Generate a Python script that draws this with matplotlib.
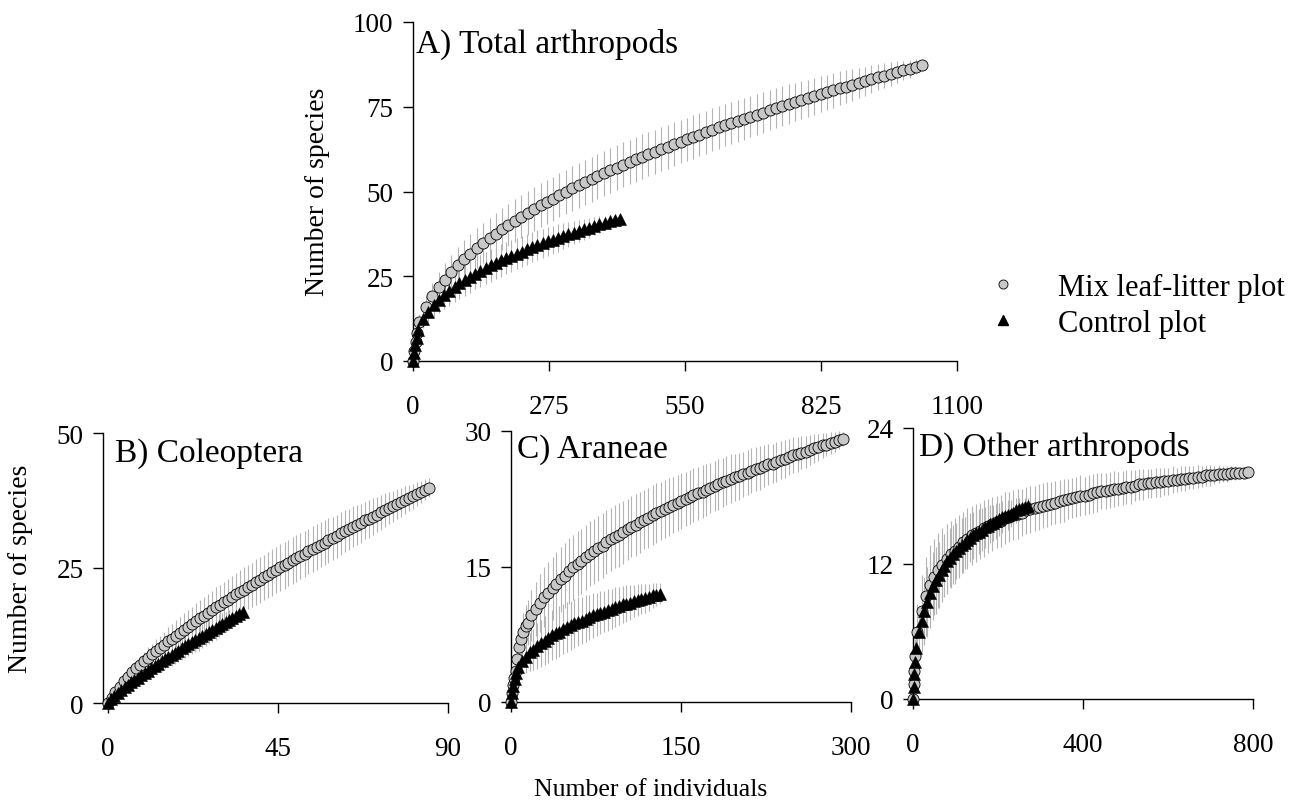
import matplotlib
matplotlib.use("Agg")
import matplotlib.pyplot as plt
from matplotlib.lines import Line2D

plt.rcParams["font.family"] = ["Liberation Serif", "DejaVu Serif"]
plt.rcParams["axes.linewidth"] = 1.0

# ---------------- data ----------------
# A) Total arthropods
a_mix_x = [0, 3, 6, 9,
           13, 26, 39, 52, 64, 77, 90, 103, 116, 129,
           142, 155, 167, 180, 193, 206, 219, 232, 245, 258,
           270, 283, 296, 309, 322, 335, 348, 361, 373, 386,
           399, 412, 425, 438, 451, 464, 476, 489, 502, 515,
           528, 541, 554, 567, 579, 592, 605, 618, 631, 644,
           657, 670, 682, 695, 708, 721, 734, 747, 760, 773,
           785, 798, 811, 824, 837, 850, 863, 876, 888, 901,
           914, 927, 940, 953, 966, 979, 991, 1004, 1017, 1030]
a_mix_y = [0, 2.9, 5.6, 8.2,
           11.5, 15.8, 19.1, 21.8, 24.0, 26.2, 28.2, 30.0, 31.7, 33.3,
           34.8, 36.2, 37.5, 38.9, 40.1, 41.4, 42.6, 43.7, 44.8, 45.9,
           46.9, 47.9, 48.9, 49.9, 50.9, 51.8, 52.7, 53.6, 54.5, 55.4,
           56.2, 57.0, 57.9, 58.7, 59.5, 60.3, 61.0, 61.7, 62.5, 63.2,
           64.0, 64.7, 65.4, 66.1, 66.8, 67.5, 68.2, 68.9, 69.5, 70.2,
           70.8, 71.4, 72.1, 72.7, 73.3, 74.0, 74.6, 75.2, 75.8, 76.4,
           76.9, 77.5, 78.1, 78.7, 79.3, 79.8, 80.4, 80.9, 81.5, 82.0,
           82.5, 83.1, 83.7, 84.2, 84.7, 85.3, 85.7, 86.2, 86.8, 87.3]
a_mix_sd = [0, 0.3, 0.9, 1.6,
            2.5, 3.3, 4.0, 4.5, 4.9, 5.2, 5.4, 5.6, 5.8, 5.9,
            6.0, 6.1, 6.2, 6.2, 6.3, 6.3, 6.4, 6.4, 6.4, 6.5,
            6.5, 6.5, 6.5, 6.5, 6.6, 6.6, 6.6, 6.6, 6.6, 6.6,
            6.6, 6.6, 6.6, 6.6, 6.6, 6.6, 6.5, 6.5, 6.5, 6.5,
            6.5, 6.4, 6.4, 6.4, 6.4, 6.3, 6.3, 6.3, 6.2, 6.2,
            6.2, 6.1, 6.1, 6.0, 6.0, 5.9, 5.9, 5.8, 5.8, 5.7,
            5.6, 5.5, 5.4, 5.3, 5.2, 5.1, 5.0, 4.8, 4.7, 4.5,
            4.3, 4.1, 3.9, 3.7, 3.5, 3.2, 2.9, 2.6, 2.2, 1.8]
a_ctrl_x = [0, 2.5, 5, 7.5,
            10, 21, 31, 42, 52, 63, 73, 84, 94, 105,
            115, 126, 136, 147, 157, 168, 178, 189, 199, 210,
            220, 230, 241, 251, 262, 272, 283, 293, 304, 314,
            325, 335, 346, 356, 367, 377, 388, 398, 409, 419]
a_ctrl_y = [0, 2.4, 4.6, 6.9,
            9.2, 12.4, 14.6, 16.5, 18.0, 19.4, 20.6, 21.9, 22.9, 23.9,
            24.8, 25.8, 26.6, 27.4, 28.2, 29.0, 29.7, 30.4, 31.0, 31.7,
            32.3, 32.9, 33.6, 34.1, 34.7, 35.3, 35.8, 36.3, 36.9, 37.4,
            37.9, 38.4, 38.9, 39.3, 39.8, 40.3, 40.7, 41.2, 41.6, 42.0]
a_ctrl_sd = [0, 0.2, 0.6, 1.1,
             1.8, 2.6, 3.2, 3.6, 3.9, 4.1, 4.3, 4.4, 4.5, 4.6,
             4.7, 4.7, 4.8, 4.8, 4.8, 4.8, 4.8, 4.8, 4.7, 4.7,
             4.6, 4.6, 4.5, 4.4, 4.3, 4.2, 4.1, 4.0, 3.8, 3.7,
             3.5, 3.3, 3.1, 2.9, 2.7, 2.4, 2.2, 1.9, 1.6, 1.3]

# B) Coleoptera
b_mix_x = [0, 1.1, 2.1, 3.2, 4.3, 5.3, 6.4, 7.4, 8.5, 9.6, 10.6,
           11.7, 12.8, 13.8, 14.9, 15.9, 17.0, 18.1, 19.1, 20.2, 21.3,
           22.3, 23.4, 24.4, 25.5, 26.6, 27.6, 28.7, 29.8, 30.8, 31.9,
           32.9, 34.0, 35.1, 36.1, 37.2, 38.3, 39.3, 40.4, 41.4, 42.5,
           43.6, 44.6, 45.7, 46.8, 47.8, 48.9, 49.9, 51.0, 52.1, 53.1,
           54.2, 55.3, 56.3, 57.4, 58.4, 59.5, 60.6, 61.6, 62.7, 63.8,
           64.8, 65.9, 66.9, 68.0, 69.1, 70.1, 71.2, 72.3, 73.3, 74.4,
           75.4, 76.5, 77.6, 78.6, 79.7, 80.8, 81.8, 82.9, 83.9, 85.0]
b_mix_y = [0, 1.0, 2.0, 3.0, 4.0, 4.9, 5.7, 6.4, 7.1, 7.8, 8.4,
           9.0, 9.6, 10.2, 10.8, 11.4, 11.9, 12.5, 13.0, 13.6, 14.1,
           14.6, 15.2, 15.7, 16.2, 16.7, 17.2, 17.7, 18.2, 18.7, 19.1,
           19.6, 20.1, 20.6, 21.0, 21.5, 21.9, 22.4, 22.8, 23.3, 23.7,
           24.2, 24.6, 25.1, 25.5, 25.9, 26.4, 26.8, 27.2, 27.6, 28.1,
           28.5, 28.9, 29.3, 29.7, 30.1, 30.5, 30.9, 31.4, 31.8, 32.2,
           32.6, 33.0, 33.3, 33.8, 34.1, 34.5, 34.9, 35.3, 35.7, 36.1,
           36.4, 36.8, 37.2, 37.6, 38.0, 38.3, 38.7, 39.1, 39.5, 39.9]
b_mix_sd = [0, 0.2, 0.4, 0.6, 0.8, 1.0, 1.2, 1.4, 1.6, 1.7, 1.9,
            2.0, 2.2, 2.3, 2.4, 2.6, 2.7, 2.8, 2.9, 3.0, 3.1,
            3.2, 3.3, 3.4, 3.5, 3.5, 3.6, 3.7, 3.7, 3.8, 3.9,
            3.9, 4.0, 4.0, 4.1, 4.1, 4.1, 4.2, 4.2, 4.2, 4.3,
            4.3, 4.3, 4.3, 4.3, 4.3, 4.3, 4.3, 4.3, 4.3, 4.2,
            4.2, 4.2, 4.2, 4.1, 4.1, 4.0, 4.0, 3.9, 3.9, 3.8,
            3.8, 3.7, 3.6, 3.5, 3.5, 3.4, 3.3, 3.2, 3.1, 3.0,
            2.9, 2.8, 2.7, 2.6, 2.4, 2.3, 2.2, 2.0, 1.9, 1.7]
b_ctrl_x = [0, 0.9, 1.8, 2.7, 3.6, 4.5, 5.4, 6.2, 7.1, 8.0, 8.9,
            9.8, 10.7, 11.6, 12.5, 13.4, 14.3, 15.2, 16.1, 17.0, 17.9,
            18.7, 19.6, 20.5, 21.4, 22.3, 23.2, 24.1, 25.0, 25.9, 26.8,
            27.7, 28.6, 29.5, 30.3, 31.2, 32.1, 33.0, 33.9, 34.8, 35.7]
b_ctrl_y = [0, 0.7, 1.3, 1.9, 2.4, 2.9, 3.4, 3.8, 4.3, 4.7, 5.2,
            5.6, 6.0, 6.5, 6.9, 7.3, 7.7, 8.1, 8.5, 8.9, 9.3,
            9.7, 10.1, 10.5, 10.9, 11.3, 11.7, 12.0, 12.4, 12.8, 13.2,
            13.5, 13.9, 14.3, 14.6, 15.0, 15.4, 15.7, 16.1, 16.5, 16.8]
b_ctrl_sd = [0, 0.1, 0.2, 0.3, 0.4, 0.5, 0.6, 0.8, 0.9, 1.0, 1.1,
             1.2, 1.3, 1.4, 1.5, 1.6, 1.7, 1.8, 1.9, 2.0, 2.0,
             2.1, 2.1, 2.2, 2.2, 2.2, 2.3, 2.3, 2.3, 2.3, 2.3,
             2.2, 2.2, 2.1, 2.0, 1.9, 1.8, 1.7, 1.5, 1.3, 1.1]

# C) Araneae
c_mix_x = [0, 1, 2, 3, 4, 5.5, 7, 9, 11, 13, 15,
           18, 22, 26, 29, 33, 37,
           40, 44, 48, 51, 55, 59, 62, 66, 70, 73,
           77, 81, 84, 88, 92, 95, 99, 103, 106, 110,
           114, 117, 121, 125, 128, 132, 136, 139, 143, 147,
           150, 154, 158, 161, 165, 169, 172, 176, 180, 183,
           187, 190, 194, 198, 201, 205, 209, 212, 216, 220,
           223, 227, 231, 234, 238, 242, 245, 249, 253, 256,
           260, 264, 267, 271, 275, 278, 282, 286, 289, 293]
c_mix_y = [0, 1.0, 1.9, 2.7, 3.4, 4.8, 6.1, 7.0, 7.8, 8.4, 8.8,
           9.6, 10.3, 11.0, 11.6, 12.1, 12.6,
           13.1, 13.6, 14.0, 14.5, 14.9, 15.3, 15.6, 16.0, 16.4, 16.7,
           17.0, 17.3, 17.7, 18.0, 18.3, 18.5, 18.8, 19.1, 19.4, 19.6,
           19.9, 20.2, 20.4, 20.7, 20.9, 21.1, 21.4, 21.6, 21.8, 22.0,
           22.3, 22.5, 22.7, 22.9, 23.1, 23.3, 23.5, 23.7, 23.9, 24.1,
           24.3, 24.5, 24.7, 24.9, 25.0, 25.2, 25.4, 25.6, 25.8, 25.9,
           26.1, 26.3, 26.4, 26.6, 26.8, 26.9, 27.1, 27.3, 27.4, 27.6,
           27.7, 27.9, 28.1, 28.2, 28.4, 28.5, 28.7, 28.8, 29.0, 29.1]
c_mix_sd = [0, 0.1, 0.3, 0.5, 0.8, 1.2, 1.6, 1.9, 2.1, 2.3, 2.5,
            2.8, 3.0, 3.2, 3.3, 3.4, 3.5,
            3.5, 3.6, 3.6, 3.6, 3.6, 3.6, 3.6, 3.6, 3.6, 3.6,
            3.6, 3.6, 3.5, 3.5, 3.5, 3.5, 3.5, 3.4, 3.4, 3.4,
            3.4, 3.3, 3.3, 3.3, 3.3, 3.2, 3.2, 3.2, 3.1, 3.1,
            3.1, 3.0, 3.0, 3.0, 2.9, 2.9, 2.9, 2.8, 2.8, 2.8,
            2.7, 2.7, 2.7, 2.6, 2.6, 2.5, 2.5, 2.5, 2.4, 2.4,
            2.3, 2.3, 2.2, 2.2, 2.1, 2.1, 2.0, 2.0, 1.9, 1.8,
            1.8, 1.7, 1.6, 1.5, 1.4, 1.3, 1.2, 1.1, 1.0, 0.8]
c_ctrl_x = [0, 1, 2, 3.3, 4.5, 6.6, 9.9, 13.2, 16.4, 19.7, 23.0, 26.3, 29.6, 32.9,
            36.2, 39.5, 42.7, 46.0, 49.3, 52.6, 55.9, 59.2, 62.5, 65.8,
            69.0, 72.3, 75.6, 78.9, 82.2, 85.5, 88.8, 92.1, 95.3, 98.6,
            101.9, 105.2, 108.5, 111.8, 115.1, 118.4, 121.6, 124.9, 128.2, 131.5]
c_ctrl_y = [0, 1.0, 1.8, 2.6, 3.2, 3.9, 4.5, 5.0, 5.5, 5.8, 6.2, 6.5, 6.8, 7.1,
            7.4, 7.6, 7.8, 8.1, 8.3, 8.5, 8.7, 8.9, 9.0, 9.2,
            9.4, 9.6, 9.7, 9.9, 10.0, 10.2, 10.3, 10.5, 10.6, 10.8,
            10.9, 11.0, 11.2, 11.3, 11.4, 11.5, 11.6, 11.8, 11.9, 12.0]
c_ctrl_sd = [0, 0.1, 0.3, 0.5, 0.7, 1.0, 1.4, 1.8, 2.1, 2.3, 2.5, 2.6, 2.7, 2.8,
             2.8, 2.8, 2.8, 2.8, 2.8, 2.7, 2.7, 2.7, 2.6, 2.6,
             2.5, 2.5, 2.4, 2.4, 2.3, 2.3, 2.2, 2.2, 2.1, 2.0,
             2.0, 1.9, 1.8, 1.8, 1.7, 1.6, 1.5, 1.4, 1.3, 1.2]

# D) Other arthropods
d_mix_x = [0, 1.3, 2.6, 4.0,
           10, 20, 30, 39, 49, 59, 69, 79, 89, 99,
           108, 118, 128, 138, 148, 158, 167, 177, 187, 197,
           207, 217, 227, 236, 246, 256, 266, 276, 286, 296,
           305, 315, 325, 335, 345, 355, 364, 374, 384, 394,
           404, 414, 424, 433, 443, 453, 463, 473, 483, 493,
           502, 512, 522, 532, 542, 552, 561, 571, 581, 591,
           601, 611, 621, 630, 640, 650, 660, 670, 680, 690,
           699, 709, 719, 729, 739, 749, 758, 768, 778, 788]
d_mix_y = [0, 1.3, 2.5, 3.8,
           5.9, 7.8, 9.1, 10.1, 10.8, 11.4, 11.9, 12.4, 12.8, 13.1,
           13.5, 13.9, 14.2, 14.5, 14.7, 14.9, 15.1, 15.3, 15.5, 15.7,
           15.8, 16.0, 16.1, 16.3, 16.4, 16.5, 16.7, 16.8, 16.9, 17.0,
           17.1, 17.2, 17.3, 17.4, 17.5, 17.6, 17.7, 17.8, 17.9, 18.0,
           18.0, 18.1, 18.2, 18.3, 18.4, 18.4, 18.5, 18.6, 18.6, 18.7,
           18.8, 18.8, 18.9, 19.0, 19.0, 19.1, 19.1, 19.2, 19.2, 19.3,
           19.3, 19.4, 19.4, 19.5, 19.5, 19.6, 19.6, 19.7, 19.7, 19.8,
           19.8, 19.8, 19.9, 19.9, 19.9, 20.0, 20.0, 20.0, 20.0, 20.1]
d_mix_sd = [0, 0.3, 0.8, 1.5,
            2.5, 3.2, 3.5, 3.5, 3.4, 3.3, 3.2, 3.1, 3.0, 2.9,
            2.8, 2.7, 2.7, 2.6, 2.6, 2.5, 2.5, 2.4, 2.4, 2.3,
            2.3, 2.3, 2.2, 2.2, 2.2, 2.1, 2.1, 2.1, 2.0, 2.0,
            2.0, 2.0, 1.9, 1.9, 1.9, 1.9, 1.8, 1.8, 1.8, 1.8,
            1.7, 1.7, 1.7, 1.7, 1.6, 1.6, 1.6, 1.6, 1.5, 1.5,
            1.5, 1.5, 1.4, 1.4, 1.4, 1.3, 1.3, 1.3, 1.3, 1.2,
            1.2, 1.2, 1.1, 1.1, 1.1, 1.0, 1.0, 1.0, 0.9, 0.9,
            0.9, 0.8, 0.8, 0.7, 0.7, 0.6, 0.6, 0.5, 0.5, 0.4]
d_ctrl_x = [0, 1.2, 2.4, 3.6,
            7, 14, 20, 27, 34, 41, 47, 54, 61, 68,
            74, 81, 88, 95, 101, 108, 115, 122, 128, 135,
            142, 149, 155, 162, 169, 176, 182, 189, 196, 203,
            209, 216, 223, 230, 236, 243, 250, 257, 263, 270]
d_ctrl_y = [0, 1.1, 2.2, 3.3,
            4.5, 5.9, 6.9, 7.8, 8.6, 9.4, 10.0, 10.5, 11.0, 11.4,
            11.8, 12.2, 12.5, 12.8, 13.1, 13.4, 13.6, 13.8, 14.1, 14.3,
            14.5, 14.7, 14.8, 15.0, 15.2, 15.3, 15.5, 15.6, 15.8, 15.9,
            16.1, 16.2, 16.3, 16.4, 16.5, 16.7, 16.8, 16.9, 17.0, 17.1]
d_ctrl_sd = [0, 0.2, 0.5, 0.9,
             1.5, 2.2, 2.7, 3.0, 3.1, 3.1, 3.0, 3.0, 2.9, 2.8,
             2.8, 2.7, 2.6, 2.6, 2.5, 2.4, 2.4, 2.3, 2.2, 2.2,
             2.1, 2.0, 2.0, 1.9, 1.8, 1.8, 1.7, 1.6, 1.6, 1.5,
             1.4, 1.4, 1.3, 1.2, 1.1, 1.1, 1.0, 0.9, 0.8, 0.7]

series_labels = ["Mix leaf-litter plot", "Control plot"]

# ---------------- style ----------------
W, H = 1295, 812
MIX_FACE = "#C8C8C8"
BAR_COLOR = "#B4B4B4"
TICK_FS = 19.5
TITLE_FS = 24


def px(x, y):
    """pixel position (top-left origin) -> figure fraction"""
    return x / W, 1 - y / H


def box(left, top, right, bottom):
    return [left / W, 1 - bottom / H, (right - left) / W, (bottom - top) / H]


def draw_panel(ax, mx, my, msd, cx, cy, csd, xlim, xticks, ylim, yticks):
    ax.errorbar(mx, my, yerr=msd, fmt="none", ecolor=BAR_COLOR,
                elinewidth=0.8, capsize=0, zorder=2)
    ax.errorbar(cx, cy, yerr=csd, fmt="none", ecolor=BAR_COLOR,
                elinewidth=0.8, capsize=0, zorder=2)
    ax.plot(mx, my, ls="none", marker="o", ms=8, mfc=MIX_FACE, mec="black",
            mew=0.6, zorder=3, clip_on=False)
    ax.plot(cx, cy, ls="none", marker="^", ms=8, mfc="black", mec="black",
            mew=0.4, zorder=4, clip_on=False)
    ax.set_xlim(*xlim)
    ax.set_ylim(*ylim)
    ax.set_xticks(xticks)
    ax.set_yticks(yticks)
    ax.spines["top"].set_visible(False)
    ax.spines["right"].set_visible(False)
    ax.tick_params(direction="out", length=7, width=1.0,
                   labelsize=TICK_FS)
    ax.tick_params(axis="x", pad=16.5)
    ax.tick_params(axis="y", pad=7)


fig = plt.figure(figsize=(W / 100, H / 100), dpi=100)

ax_a = fig.add_axes(box(413, 23, 957, 362))
ax_b = fig.add_axes(box(103, 434, 448, 704))
ax_c = fig.add_axes(box(511, 432, 851, 703))
ax_d = fig.add_axes(box(913, 429, 1253, 700))

draw_panel(ax_a, a_mix_x, a_mix_y, a_mix_sd, a_ctrl_x, a_ctrl_y, a_ctrl_sd,
           (0, 1100), [0, 275, 550, 825, 1100], (0, 100), [0, 25, 50, 75, 100])
draw_panel(ax_b, b_mix_x, b_mix_y, b_mix_sd, b_ctrl_x, b_ctrl_y, b_ctrl_sd,
           (-1.2, 90), [0, 45, 90], (0, 50), [0, 25, 50])
draw_panel(ax_c, c_mix_x, c_mix_y, c_mix_sd, c_ctrl_x, c_ctrl_y, c_ctrl_sd,
           (0, 300), [0, 150, 300], (0, 30), [0, 15, 30])
draw_panel(ax_d, d_mix_x, d_mix_y, d_mix_sd, d_ctrl_x, d_ctrl_y, d_ctrl_sd,
           (0, 800), [0, 400, 800], (0, 24), [0, 12, 24])

# panel titles
for (xp, yp), txt in [((416, 53), "A) Total arthropods"),
                      ((115, 462), "B) Coleoptera"),
                      ((517, 458), "C) Araneae"),
                      ((919, 456), "D) Other arthropods")]:
    fig.text(*px(xp, yp), txt, fontsize=TITLE_FS, ha="left", va="baseline")

# axis labels
fig.text(*px(318, 192), "Number of species", rotation=90, fontsize=20,
         ha="center", va="center")
fig.text(*px(21, 569), "Number of species", rotation=90, fontsize=20,
         ha="center", va="center")
fig.text(*px(651, 790), "Number of individuals", fontsize=18.5,
         ha="center", va="center")

# legend
handles = [Line2D([], [], ls="none", marker="o", ms=6.5, mfc=MIX_FACE,
                  mec="black", mew=0.6),
           Line2D([], [], ls="none", marker="^", ms=6.5, mfc="black",
                  mec="black")]
fig.legend(handles, series_labels, loc="upper left",
           bbox_to_anchor=px(988, 274), frameon=False, fontsize=22,
           handlelength=1.0, handletextpad=1.3, labelspacing=0.22,
           borderpad=0, borderaxespad=0)

fig.savefig("out.png", dpi=100)
